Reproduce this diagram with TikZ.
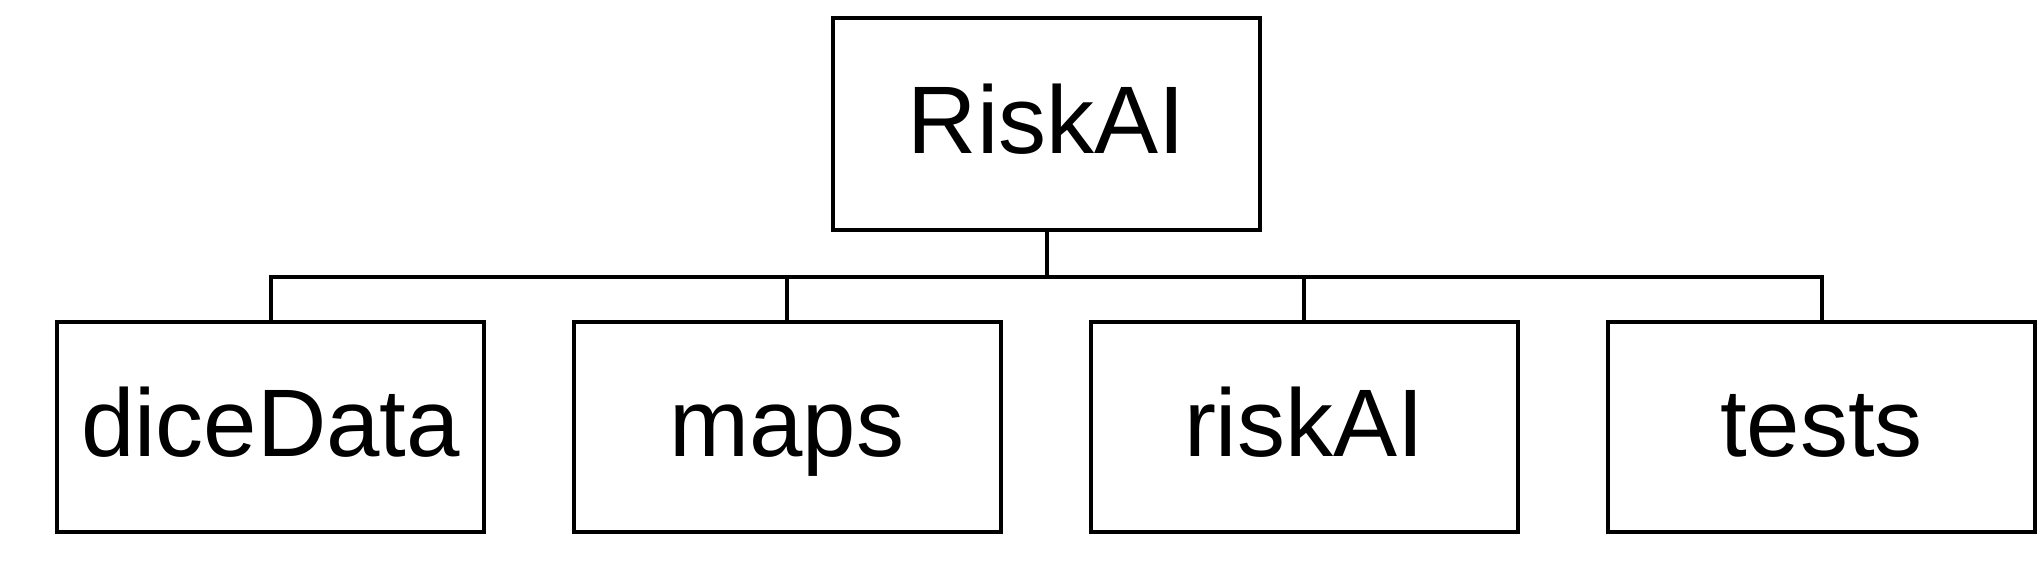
\documentclass[tikz,border=0pt]{standalone}
\usepackage{fontspec}
\setmainfont{Liberation Sans}
\begin{document}
\begin{tikzpicture}[x=1pt,y=1pt,
  box/.style={draw=black, line width=4pt, fill=white, minimum width=427pt,
    inner sep=0pt, text height=70pt, text depth=12pt,
    font=\fontsize{96pt}{100pt}\selectfont},
  conn/.style={draw=black, line width=4pt, line join=miter}]
\useasboundingbox (0,0) rectangle (2038,-560);
\node[box, minimum height=212pt] (top) at (1046.5,-124) {RiskAI};
\node[box, minimum height=210pt] (b1) at (270.5,-427) {diceData};
\node[box, minimum height=210pt] (b2) at (787,-427) {maps};
\node[box, minimum height=210pt] (b3) at (1304,-427) {riskAI};
\node[box, minimum height=210pt] (b4) at (1821.5,-427) {tests};
\coordinate (bus) at (0,-277);
\draw[conn] (b1.north) -- (b1.north |- bus) -- (b4.north |- bus) -- (b4.north);
\draw[conn] (top.south) -- (top.south |- bus);
\draw[conn] (b2.north) -- (b2.north |- bus);
\draw[conn] (b3.north) -- (b3.north |- bus);
\end{tikzpicture}
\end{document}
